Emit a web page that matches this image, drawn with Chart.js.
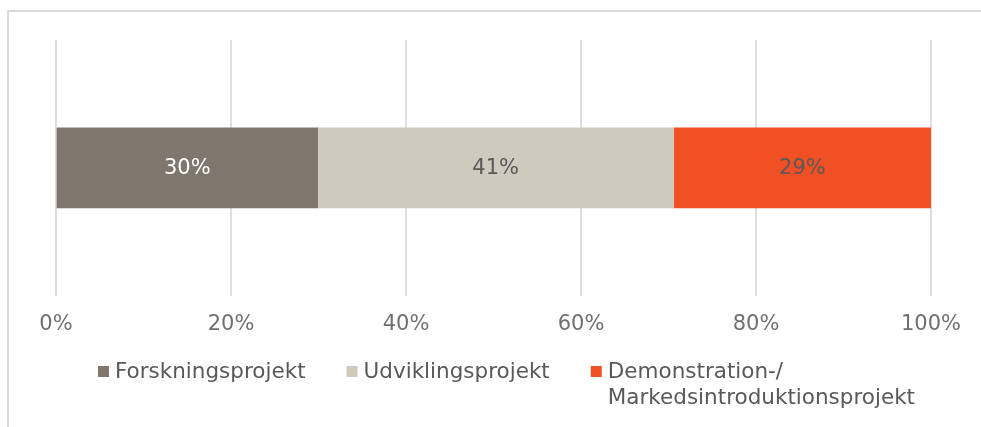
<!DOCTYPE html>
<html>
<head>
<meta charset="utf-8">
<script src="https://cdn.jsdelivr.net/npm/chart.js@4/dist/chart.umd.min.js"></script>
<style>
  html, body { margin: 0; padding: 0; background: #ffffff; }
  #wrap { width: 981px; height: 427px; position: relative; }
</style>
</head>
<body>
<div id="wrap"><canvas id="c" width="981" height="427"></canvas></div>
<script>
const categories = [''];
const seriesNames = ['Forskningsprojekt', 'Udviklingsprojekt', 'Demonstration-/\nMarkedsintroduktionsprojekt'];
const forskning = [29.9];
const udvikling = [40.7];
const demonstration = [29.4];
const tickValues = [0, 20, 40, 60, 80, 100];

const colors = ['#7f776e', '#d0c9bd', '#f05023'];
const labelColors = ['#ffffff', '#595959', '#595959'];
const FONT = "'DejaVu Sans', Verdana, sans-serif";

const seriesValues = [forskning, udvikling, demonstration];

const datasets = seriesNames.map((name, i) => ({
  label: name,
  data: seriesValues[i],
  backgroundColor: colors[i],
  borderWidth: 0,
  barThickness: 80
}));

const framePlugin = {
  id: 'frame',
  beforeDraw(chart) {
    const ctx = chart.ctx;
    ctx.save();
    ctx.fillStyle = '#ffffff';
    ctx.fillRect(0, 0, chart.width, chart.height);
    ctx.strokeStyle = '#d9d9d9';
    ctx.lineWidth = 2;
    ctx.beginPath();
    ctx.moveTo(8, chart.height + 2);
    ctx.lineTo(8, 11);
    ctx.lineTo(chart.width + 2, 11);
    ctx.stroke();
    ctx.restore();
  }
};

const valueLabelPlugin = {
  id: 'valueLabels',
  afterDatasetsDraw(chart) {
    const ctx = chart.ctx;
    ctx.save();
    ctx.font = '21px ' + FONT;
    ctx.textAlign = 'center';
    ctx.textBaseline = 'middle';
    chart.data.datasets.forEach((ds, i) => {
      const meta = chart.getDatasetMeta(i);
      meta.data.forEach((bar, j) => {
        const cx = (bar.x + bar.base) / 2;
        ctx.fillStyle = labelColors[i];
        ctx.fillText(Math.round(ds.data[j]) + '%', cx, bar.y + 1);
      });
    });
    ctx.restore();
  }
};

const legendPlugin = {
  id: 'customLegend',
  afterDraw(chart) {
    const ctx = chart.ctx;
    ctx.save();
    ctx.font = '21.5px ' + FONT;
    ctx.textBaseline = 'middle';
    ctx.textAlign = 'left';
    let x = 98;
    const y = 372;
    const lineH = 26;
    chart.data.datasets.forEach((ds, i) => {
      const lines = ds.label.split('\n');
      ctx.fillStyle = ds.backgroundColor;
      ctx.fillRect(x, y - 6, 11, 11);
      ctx.fillStyle = '#595959';
      let w = 0;
      lines.forEach((ln, k) => {
        ctx.fillText(ln, x + 17, y + k * lineH);
        w = Math.max(w, ctx.measureText(ln).width);
      });
      x += 17 + w + 41;
    });
    ctx.restore();
  }
};

new Chart(document.getElementById('c'), {
  type: 'bar',
  data: { labels: categories, datasets },
  options: {
    indexAxis: 'y',
    responsive: false,
    animation: false,
    layout: { padding: { left: 56, right: 50, top: 40, bottom: 74 } },
    plugins: {
      legend: { display: false },
      tooltip: { enabled: false }
    },
    scales: {
      x: {
        stacked: true,
        min: 0,
        max: 100,
        afterBuildTicks(scale) { scale.ticks = tickValues.map(v => ({ value: v })); },
        grid: { color: '#dedede', lineWidth: 2, drawTicks: false },
        border: { display: false },
        ticks: {
          padding: 16,
          color: '#707070',
          font: { family: FONT, size: 21 },
          callback: v => v + '%',
          maxRotation: 0
        }
      },
      y: {
        stacked: true,
        display: false
      }
    }
  },
  plugins: [framePlugin, valueLabelPlugin, legendPlugin]
});
</script>
</body>
</html>
